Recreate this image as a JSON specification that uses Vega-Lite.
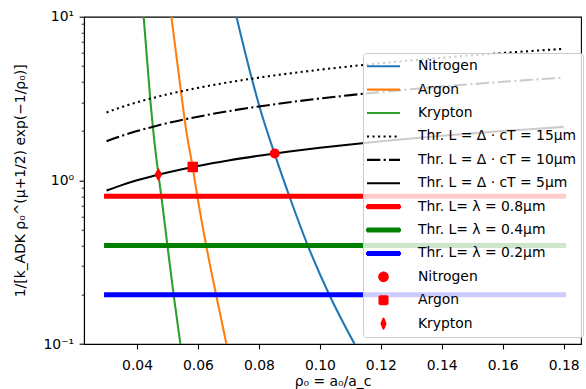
{
  "$schema": "https://vega.github.io/schema/vega-lite/v6.json",
  "width": 497,
  "height": 327.3,
  "autosize": {"type": "none"},
  "padding": {"left": 84, "top": 16.7, "right": 5, "bottom": 45},
  "background": "white",
  "config": {
    "font": "DejaVu Sans",
    "view": {"stroke": "#000000", "strokeWidth": 1.1},
    "axis": {
      "grid": false,
      "domainColor": "#000000",
      "domainWidth": 1.1,
      "tickColor": "#000000",
      "tickWidth": 1.1,
      "labelColor": "#000000",
      "titleColor": "#000000",
      "labelFont": "DejaVu Sans",
      "titleFont": "DejaVu Sans",
      "labelFontSize": 13.9,
      "titleFontSize": 13.9,
      "titleFontWeight": "normal"
    }
  },
  "data": {
    "values": [
      {"s": "N2", "x": 0.07263, "y": 10},
      {"s": "N2", "x": 0.07779, "y": 4.1},
      {"s": "N2", "x": 0.08019, "y": 2.82},
      {"s": "N2", "x": 0.08522, "y": 1.44},
      {"s": "N2", "x": 0.09005, "y": 0.794},
      {"s": "N2", "x": 0.09606, "y": 0.399},
      {"s": "N2", "x": 0.1032, "y": 0.198},
      {"s": "N2", "x": 0.1114, "y": 0.1},
      {"s": "Ar", "x": 0.05127, "y": 10},
      {"s": "Ar", "x": 0.05479, "y": 3.094},
      {"s": "Ar", "x": 0.05597, "y": 2.125},
      {"s": "Ar", "x": 0.05827, "y": 1.2},
      {"s": "Ar", "x": 0.05982, "y": 0.794},
      {"s": "Ar", "x": 0.06267, "y": 0.4025},
      {"s": "Ar", "x": 0.06596, "y": 0.1992},
      {"s": "Ar", "x": 0.06935, "y": 0.1},
      {"s": "Kr", "x": 0.04217, "y": 10},
      {"s": "Kr", "x": 0.04437, "y": 3.094},
      {"s": "Kr", "x": 0.0452, "y": 2.125},
      {"s": "Kr", "x": 0.047, "y": 1.09},
      {"s": "Kr", "x": 0.04799, "y": 0.794},
      {"s": "Kr", "x": 0.04996, "y": 0.4025},
      {"s": "Kr", "x": 0.05203, "y": 0.1992},
      {"s": "Kr", "x": 0.05423, "y": 0.1},
      {"s": "T15", "x": 0.03, "y": 2.598},
      {"s": "T15", "x": 0.035, "y": 2.806},
      {"s": "T15", "x": 0.04, "y": 3.0},
      {"s": "T15", "x": 0.045, "y": 3.182},
      {"s": "T15", "x": 0.05, "y": 3.354},
      {"s": "T15", "x": 0.06, "y": 3.674},
      {"s": "T15", "x": 0.07, "y": 3.969},
      {"s": "T15", "x": 0.08, "y": 4.243},
      {"s": "T15", "x": 0.09, "y": 4.5},
      {"s": "T15", "x": 0.1, "y": 4.743},
      {"s": "T15", "x": 0.11, "y": 4.975},
      {"s": "T15", "x": 0.12, "y": 5.196},
      {"s": "T15", "x": 0.13, "y": 5.408},
      {"s": "T15", "x": 0.14, "y": 5.612},
      {"s": "T15", "x": 0.15, "y": 5.809},
      {"s": "T15", "x": 0.16, "y": 6.0},
      {"s": "T15", "x": 0.17, "y": 6.185},
      {"s": "T15", "x": 0.18, "y": 6.364},
      {"s": "T10", "x": 0.03, "y": 1.732},
      {"s": "T10", "x": 0.035, "y": 1.871},
      {"s": "T10", "x": 0.04, "y": 2.0},
      {"s": "T10", "x": 0.045, "y": 2.121},
      {"s": "T10", "x": 0.05, "y": 2.236},
      {"s": "T10", "x": 0.06, "y": 2.449},
      {"s": "T10", "x": 0.07, "y": 2.646},
      {"s": "T10", "x": 0.08, "y": 2.828},
      {"s": "T10", "x": 0.09, "y": 3.0},
      {"s": "T10", "x": 0.1, "y": 3.162},
      {"s": "T10", "x": 0.11, "y": 3.317},
      {"s": "T10", "x": 0.12, "y": 3.464},
      {"s": "T10", "x": 0.13, "y": 3.606},
      {"s": "T10", "x": 0.14, "y": 3.742},
      {"s": "T10", "x": 0.15, "y": 3.873},
      {"s": "T10", "x": 0.16, "y": 4.0},
      {"s": "T10", "x": 0.17, "y": 4.123},
      {"s": "T10", "x": 0.18, "y": 4.243},
      {"s": "T5", "x": 0.03, "y": 0.866},
      {"s": "T5", "x": 0.035, "y": 0.935},
      {"s": "T5", "x": 0.04, "y": 1.0},
      {"s": "T5", "x": 0.045, "y": 1.061},
      {"s": "T5", "x": 0.05, "y": 1.118},
      {"s": "T5", "x": 0.06, "y": 1.225},
      {"s": "T5", "x": 0.07, "y": 1.323},
      {"s": "T5", "x": 0.08, "y": 1.414},
      {"s": "T5", "x": 0.09, "y": 1.5},
      {"s": "T5", "x": 0.1, "y": 1.581},
      {"s": "T5", "x": 0.11, "y": 1.658},
      {"s": "T5", "x": 0.12, "y": 1.732},
      {"s": "T5", "x": 0.13, "y": 1.803},
      {"s": "T5", "x": 0.14, "y": 1.871},
      {"s": "T5", "x": 0.15, "y": 1.936},
      {"s": "T5", "x": 0.16, "y": 2.0},
      {"s": "T5", "x": 0.17, "y": 2.062},
      {"s": "T5", "x": 0.18, "y": 2.121},
      {"s": "W08", "x": 0.03, "y": 0.8},
      {"s": "W08", "x": 0.18, "y": 0.8},
      {"s": "W04", "x": 0.03, "y": 0.4},
      {"s": "W04", "x": 0.18, "y": 0.4},
      {"s": "W02", "x": 0.03, "y": 0.2},
      {"s": "W02", "x": 0.18, "y": 0.2},
      {"s": "PN", "x": 0.0852, "y": 1.46},
      {"s": "PA", "x": 0.0583, "y": 1.207},
      {"s": "PK", "x": 0.047, "y": 1.084}
    ]
  },
  "resolve": {"scale": {"y": "shared"}, "axis": {"y": "independent"}},
  "encoding": {
    "x": {
      "field": "x",
      "type": "quantitative",
      "scale": {"domain": [0.0226, 0.1857], "nice": false, "zero": false},
      "axis": {
        "title": "ρ₀ = a₀/a_c",
        "values": [0.04, 0.06, 0.08, 0.1, 0.12, 0.14, 0.16, 0.18],
        "format": ".2f",
        "tickSize": 4.9,
        "labelPadding": 9.5,
        "titleBaseline": "alphabetic",
        "titleY": 41.5,
        "labelFlush": false
      }
    },
    "color": {
      "field": "s",
      "type": "nominal",
      "scale": {
        "domain": ["N2", "Ar", "Kr", "T15", "T10", "T5", "W08", "W04", "W02", "PN", "PA", "PK"],
        "range": ["#1f77b4", "#ff7f0e", "#2ca02c", "#000000", "#000000", "#000000", "#ff0000", "#008000", "#0000ff", "#ff0000", "#ff0000", "#ff0000"]
      },
      "legend": {
        "title": null,
        "orient": "none",
        "legendX": 279,
        "legendY": 36.3,
        "symbolType": "stroke",
        "symbolSize": 100,
        "symbolStrokeWidth": 2.08,
        "symbolOffset": 7.25,
        "labelOffset": 27.5,
        "labelFont": "DejaVu Sans",
        "labelFontSize": 13.9,
        "labelColor": "#000000",
        "labelLimit": 400,
        "rowPadding": 8.4,
        "padding": 6.3,
        "fillColor": "rgba(255,255,255,0.8)",
        "strokeColor": "#cccccc",
        "cornerRadius": 3,
        "labelExpr": "{'N2':'Nitrogen','Ar':'Argon','Kr':'Krypton','T15':'Thr. L = Δ · cT = 15μm','T10':'Thr. L = Δ · cT = 10μm','T5':'Thr. L = Δ · cT = 5μm','W08':'Thr. L= λ = 0.8μm','W04':'Thr. L= λ = 0.4μm','W02':'Thr. L= λ = 0.2μm','PN':'Nitrogen','PA':'Argon','PK':'Krypton'}[datum.value]",
        "encode": {
          "symbols": {
            "update": {
              "shape": {"signal": "datum.value === 'PN' ? 'M-0.85,0A0.85,0.85 0 1,0 0.85,0A0.85,0.85 0 1,0 -0.85,0Z' : datum.value === 'PA' ? 'M-0.8,-0.8H0.8V0.8H-0.8Z' : datum.value === 'PK' ? 'M0,-1L0.4,0L0,1L-0.4,0Z' : indexof(['W08','W04','W02'], datum.value) >= 0 ? 'M-3.3,-0.3H3.3V0.3H-3.3Z' : 'M-3.3,0H3.3'"},
              "fill": {"signal": "indexof(['PN','PA','PK','W08'], datum.value) >= 0 ? '#ff0000' : datum.value === 'W04' ? '#008000' : datum.value === 'W02' ? '#0000ff' : 'transparent'"},
              "stroke": {"signal": "datum.value === 'N2' ? '#1f77b4' : datum.value === 'Ar' ? '#ff7f0e' : datum.value === 'Kr' ? '#2ca02c' : indexof(['T15','T10','T5'], datum.value) >= 0 ? '#000000' : indexof(['PN','PA','PK','W08'], datum.value) >= 0 ? '#ff0000' : datum.value === 'W04' ? '#008000' : '#0000ff'"},
              "strokeDash": {"signal": "datum.value === 'T15' ? [2.08, 3.44] : datum.value === 'T10' ? [13.3, 3.33, 2.08, 3.33] : [1, 0]"},
              "strokeJoin": {"value": "round"},
              "opacity": {"value": 1}
            }
          }
        }
      }
    }
  },
  "layer": [
    {
      "transform": [{"filter": {"field": "s", "oneOf": ["N2", "Ar", "Kr"]}}],
      "mark": {"type": "line", "strokeWidth": 2.08, "interpolate": "monotone", "clip": true},
      "encoding": {
        "y": {
          "field": "y",
          "type": "quantitative",
          "scale": {"type": "log", "domain": [0.1, 10], "nice": false},
          "axis": {
            "orient": "left",
            "title": null,
            "values": [0.2, 0.3, 0.4, 0.5, 0.6, 0.7, 0.8, 0.9, 2, 3, 4, 5, 6, 7, 8, 9],
            "labels": false,
            "domain": false,
            "tickSize": 2.8,
            "tickWidth": 0.85
          }
        }
      }
    },
    {
      "transform": [{"filter": {"field": "s", "equal": "T15"}}],
      "mark": {"type": "line", "strokeWidth": 2.08, "strokeDash": [2.08, 3.44], "interpolate": "monotone", "clip": true},
      "encoding": {
        "y": {
          "field": "y",
          "type": "quantitative",
          "scale": {"type": "log", "domain": [0.1, 10], "nice": false},
          "axis": {
            "orient": "left",
            "title": "1/[k_ADK ρ₀^(μ+1/2) exp(−1/ρ₀)]",
            "values": [0.1, 1, 10],
            "labelExpr": "datum.value == 10 ? '10¹' : datum.value == 1 ? '10⁰' : '10⁻¹'",
            "tickSize": 4.9,
            "labelPadding": 5.5,
            "titleX": -64,
            "titleBaseline": "middle",
            "labelFlush": false,
            "labelOverlap": false
          }
        }
      }
    },
    {
      "transform": [{"filter": {"field": "s", "equal": "T10"}}],
      "mark": {"type": "line", "strokeWidth": 2.08, "strokeDash": [13.3, 3.33, 2.08, 3.33], "interpolate": "monotone", "clip": true},
      "encoding": {"y": {"field": "y", "type": "quantitative", "axis": null}}
    },
    {
      "transform": [{"filter": {"field": "s", "equal": "T5"}}],
      "mark": {"type": "line", "strokeWidth": 2.08, "interpolate": "monotone", "clip": true},
      "encoding": {"y": {"field": "y", "type": "quantitative", "axis": null}}
    },
    {
      "transform": [{"filter": {"field": "s", "oneOf": ["W08", "W04", "W02"]}}],
      "mark": {"type": "line", "strokeWidth": 5, "strokeCap": "square", "clip": true},
      "encoding": {"y": {"field": "y", "type": "quantitative", "axis": null}}
    },
    {
      "transform": [{"filter": {"field": "s", "equal": "PN"}}],
      "mark": {"type": "point", "filled": true, "shape": "circle", "size": 100, "opacity": 1, "strokeWidth": 0},
      "encoding": {"y": {"field": "y", "type": "quantitative", "axis": null}}
    },
    {
      "transform": [{"filter": {"field": "s", "equal": "PA"}}],
      "mark": {"type": "point", "filled": true, "shape": "square", "size": 110, "opacity": 1, "strokeWidth": 0},
      "encoding": {"y": {"field": "y", "type": "quantitative", "axis": null}}
    },
    {
      "transform": [{"filter": {"field": "s", "equal": "PK"}}],
      "mark": {"type": "point", "filled": true, "shape": "M0,-1L0.6,0L0,1L-0.6,0Z", "size": 170, "opacity": 1, "strokeWidth": 0},
      "encoding": {"y": {"field": "y", "type": "quantitative", "axis": null}}
    }
  ]
}
